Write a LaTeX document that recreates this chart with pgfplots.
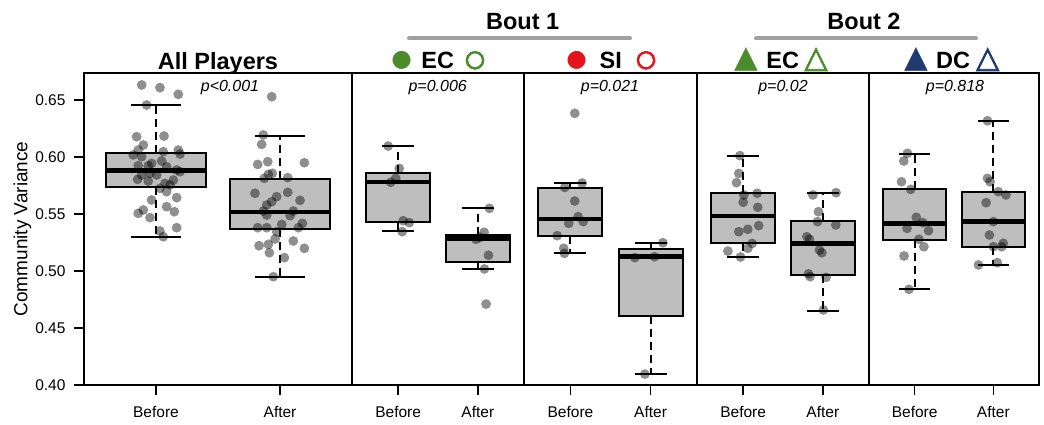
\documentclass[border=0pt]{standalone}
\usepackage{pgfplots}
\pgfplotsset{compat=1.18}
\usepgfplotslibrary{statistics}
\usepackage{fontspec}
\setmainfont{Liberation Sans}
\newfontfamily\symfont{DejaVu Sans}
\newfontfamily\symbold[FakeBold=2.5]{DejaVu Sans}
\newfontfamily\ringfont[FakeBold=5]{DejaVu Sans}

\definecolor{boxgray}{HTML}{BEBEBE}
\definecolor{ecgreen}{HTML}{4B8B2B}
\definecolor{sired}{HTML}{E3141B}
\definecolor{dcblue}{HTML}{1F3A6E}
\definecolor{boutgray}{HTML}{A0A0A0}

\pgfplotsset{
  panel/.style={
    scale only axis, height=312pt, anchor=south west,
    xmin=0.42, xmax=2.58, ymin=0.40, ymax=0.6737,
    xtick={1,2}, xticklabels={Before,After}, ytick=\empty,
    tick pos=left, tick align=outside, major tick length=10pt,
    axis line style={line width=1.5pt},
    every tick/.style={black, line width=1.5pt},
    ticklabel style={font=\fontsize{15.5}{16}\selectfont},
    xticklabel style={yshift=-8pt},
    clip=false,
  },
  boxplot/draw/lower whisker/.code={%
    \draw[black, solid, line width=2pt, dash pattern=on 8pt off 5pt]
      (boxplot box cs:\pgfplotsboxplotvalue{lower quartile},0.5) --
      (boxplot box cs:\pgfplotsboxplotvalue{lower whisker},0.5);
    \draw[black, solid, line width=2pt]
      (boxplot whisker cs:\pgfplotsboxplotvalue{lower whisker},0) --
      (boxplot whisker cs:\pgfplotsboxplotvalue{lower whisker},1);
  },
  boxplot/draw/upper whisker/.code={%
    \draw[black, solid, line width=2pt, dash pattern=on 8pt off 5pt]
      (boxplot box cs:\pgfplotsboxplotvalue{upper quartile},0.5) --
      (boxplot box cs:\pgfplotsboxplotvalue{upper whisker},0.5);
    \draw[black, solid, line width=2pt]
      (boxplot whisker cs:\pgfplotsboxplotvalue{upper whisker},0) --
      (boxplot whisker cs:\pgfplotsboxplotvalue{upper whisker},1);
  },
  boxplot/every box/.style={draw=black, fill=boxgray, line width=2pt},
  boxplot/every median/.style={draw=black, line width=4.8pt},
  bx/.style={boxplot prepared={#1, draw direction=y, box extend=0.8, whisker extend=0.4}},
  pts/.style={only marks, draw=none, mark=*, mark size=4.9pt,
    mark options={solid, draw=none, draw opacity=0, fill=black, fill opacity=0.44}},
}

\begin{document}
\begin{tikzpicture}[x=1pt,y=1pt]
\useasboundingbox (0,0) rectangle (1044,425);

% ---- All players
\begin{axis}[panel, width=268pt, at={(84pt,40pt)},
    ytick={0.40,0.45,0.50,0.55,0.60,0.65},
    yticklabel style={xshift=-5pt, /pgf/number format/.cd, fixed, fixed zerofill, precision=2, assume math mode=true}]
\addplot[bx={lower whisker=0.5296, lower quartile=0.5734, median=0.588, upper quartile=0.6032, upper whisker=0.6453, draw position=1}] coordinates {};
\addplot[bx={lower whisker=0.4945, lower quartile=0.5368, median=0.5518, upper quartile=0.581, upper whisker=0.6187, draw position=2}] coordinates {};
\addplot[pts] coordinates {
(0.885,0.6632) (1.032,0.6608) (1.180,0.6550) (0.925,0.6456) (0.844,0.6178)
(1.065,0.6184) (0.898,0.6105) (0.857,0.6061) (1.180,0.6061) (1.059,0.6047)
(1.194,0.6026) (0.817,0.6018) (0.885,0.6003) (1.046,0.5965) (0.965,0.5944)
(0.938,0.5924) (0.857,0.5924) (1.086,0.5915) (1.167,0.5886) (1.194,0.5871)
(0.952,0.5857) (0.885,0.5842) (1.006,0.5842) (0.852,0.5804) (0.938,0.5789)
(1.140,0.5798) (1.073,0.5769) (1.113,0.5754) (1.032,0.5725) (1.086,0.5696)
(0.965,0.5623) (1.167,0.5643) (0.857,0.5506) (0.898,0.5535) (0.952,0.5468)
(1.086,0.5564) (1.148,0.5520) (1.167,0.5380) (1.032,0.5351) (1.059,0.5301)
};
\addplot[pts] coordinates {
(1.933,0.6529) (1.865,0.6193) (1.852,0.6111) (1.820,0.5935) (1.901,0.5959)
(2.196,0.5950) (1.906,0.5848) (1.938,0.5857) (1.873,0.5813) (2.062,0.5819)
(1.798,0.5682) (1.973,0.5652) (2.062,0.5690) (1.933,0.5608) (1.893,0.5579)
(2.161,0.5620) (1.865,0.5526) (2.107,0.5526) (1.893,0.5491) (2.081,0.5485)
(1.820,0.5380) (1.893,0.5380) (2.014,0.5409) (2.148,0.5380) (2.180,0.5418)
(1.973,0.5345) (1.960,0.5281) (2.107,0.5263) (1.831,0.5222) (1.906,0.5234)
(2.196,0.5199) (1.914,0.5160) (2.035,0.5117) (1.946,0.4950)
};
\end{axis}

% ---- Bout 1, EC
\begin{axis}[panel, width=172pt, at={(352pt,40pt)}]
\addplot[bx={lower whisker=0.5351, lower quartile=0.5433, median=0.578, upper quartile=0.5857, upper whisker=0.6096, draw position=1}] coordinates {};
\addplot[bx={lower whisker=0.5018, lower quartile=0.5076, median=0.5283, upper quartile=0.5313, upper whisker=0.5553, draw position=2}] coordinates {};
\addplot[pts] coordinates {
(0.874,0.6096) (1.013,0.5900) (0.970,0.5813) (0.906,0.5778) (1.063,0.5441) (1.139,0.5424) (1.050,0.5345)
(2.146,0.5550) (2.079,0.5340) (1.978,0.5278) (2.029,0.5295) (2.134,0.5138) (2.083,0.5018) (2.104,0.4710)
};
\end{axis}

% ---- Bout 1, SI
\begin{axis}[panel, width=173pt, at={(524pt,40pt)}]
\addplot[bx={lower whisker=0.5155, lower quartile=0.531, median=0.5456, upper quartile=0.5731, upper whisker=0.5772, draw position=1}] coordinates {};
\addplot[bx={lower whisker=0.4096, lower quartile=0.4608, median=0.5125, upper quartile=0.519, upper whisker=0.5243, draw position=2}] coordinates {};
\addplot[pts] coordinates {
(1.054,0.6383) (0.929,0.5733) (1.146,0.5772) (1.054,0.5614) (1.096,0.5477)
(1.159,0.5433) (0.979,0.5418) (0.834,0.5310) (0.916,0.5199) (0.925,0.5155)
(2.154,0.5248) (2.050,0.5125) (1.804,0.5117) (1.929,0.4096)
};
\end{axis}

% ---- Bout 2, EC
\begin{axis}[panel, width=172pt, at={(697pt,40pt)}]
\addplot[bx={lower whisker=0.5123, lower quartile=0.5246, median=0.5482, upper quartile=0.5682, upper whisker=0.6012, draw position=1}] coordinates {};
\addplot[bx={lower whisker=0.4649, lower quartile=0.4965, median=0.5243, upper quartile=0.5439, upper whisker=0.5687, draw position=2}] coordinates {};
\addplot[pts] coordinates {
(0.958,0.6012) (0.945,0.5856) (0.916,0.5775) (1.008,0.5667) (1.175,0.5682)
(1.000,0.5603) (1.183,0.5559) (1.195,0.5398) (1.058,0.5366) (0.945,0.5345)
(1.113,0.5242) (1.058,0.5199) (0.808,0.5175) (0.966,0.5123)
(1.875,0.5667) (2.166,0.5687) (1.945,0.5520) (1.933,0.5433) (2.163,0.5404)
(1.800,0.5301) (1.833,0.5278) (1.958,0.5184) (1.988,0.5160) (1.841,0.4950)
(1.820,0.4975) (2.041,0.4944) (2.008,0.4658)
};
\end{axis}

% ---- Bout 2, DC
\begin{axis}[panel, width=170pt, at={(869pt,40pt)}]
\addplot[bx={lower whisker=0.4842, lower quartile=0.5272, median=0.5418, upper quartile=0.5716, upper whisker=0.6023, draw position=1}] coordinates {};
\addplot[bx={lower whisker=0.5053, lower quartile=0.5207, median=0.5433, upper quartile=0.5696, upper whisker=0.6316, draw position=2}] coordinates {};
\addplot[pts] coordinates {
(0.908,0.6032) (0.862,0.5965) (0.833,0.5783) (0.950,0.5716) (1.021,0.5471)
(1.104,0.5424) (0.903,0.5374) (1.176,0.5354) (1.054,0.5278) (1.117,0.5213)
(0.865,0.5132) (0.928,0.4839)
(1.925,0.6318) (1.925,0.5813) (1.958,0.5783) (2.063,0.5696) (2.160,0.5667)
(1.908,0.5599) (2.000,0.5433) (1.950,0.5316) (2.126,0.5243) (2.106,0.5213)
(2.000,0.5213) (2.050,0.5073) (1.811,0.5053)
};
\end{axis}

% ---- labels and headers
\node[rotate=90, font=\fontsize{19}{19}\selectfont] at (22.5,196) {Community Variance};

\begin{scope}[every node/.style={anchor=base, font=\itshape\fontsize{16}{16}\selectfont}]
\node at (230,333) {p<0.001};
\node at (437.7,333) {p=0.006};
\node at (610,333) {p=0.021};
\node at (783,333) {p=0.02};
\node at (955,333) {p=0.818};
\end{scope}

\begin{scope}[every node/.style={anchor=base, font=\bfseries\fontsize{23.5}{24}\selectfont}]
\node at (218,355) {All Players};
\node at (522.7,395.7) {Bout 1};
\node at (864,395.7) {Bout 2};
\node at (437.7,356) {EC};
\node at (610.7,356) {SI};
\node at (782.7,356) {EC};
\node at (953,356) {DC};
\end{scope}
\draw[boutgray, line width=4pt, line cap=round] (409,386.7) -- (630,386.7);
\draw[boutgray, line width=4pt, line cap=round] (756,386.7) -- (976,386.7);

% group symbols: filled = before, open = after
\begin{scope}[every node/.style={inner sep=0pt}]
\node[text=ecgreen, font=\symfont\fontsize{23.5}{24}\selectfont] at (401.7,364.7) {●};
\node[text=ecgreen, font=\ringfont\fontsize{23}{24}\selectfont] at (475,364.7) {○};
\node[text=sired,   font=\symfont\fontsize{23.5}{24}\selectfont] at (576.7,364.7) {●};
\node[text=sired,   font=\ringfont\fontsize{23}{24}\selectfont] at (646,364.7) {○};
\node[text=ecgreen, font=\symfont\fontsize{31}{32}\selectfont] at (746.7,365.5) {▲};
\node[text=ecgreen, font=\symbold\fontsize{30}{32}\selectfont] at (816,365.5) {△};
\node[text=dcblue,  font=\symfont\fontsize{31}{32}\selectfont] at (916,365.5) {▲};
\node[text=dcblue,  font=\symbold\fontsize{30}{32}\selectfont] at (987.7,365.5) {△};
\end{scope}
\end{tikzpicture}
\end{document}
